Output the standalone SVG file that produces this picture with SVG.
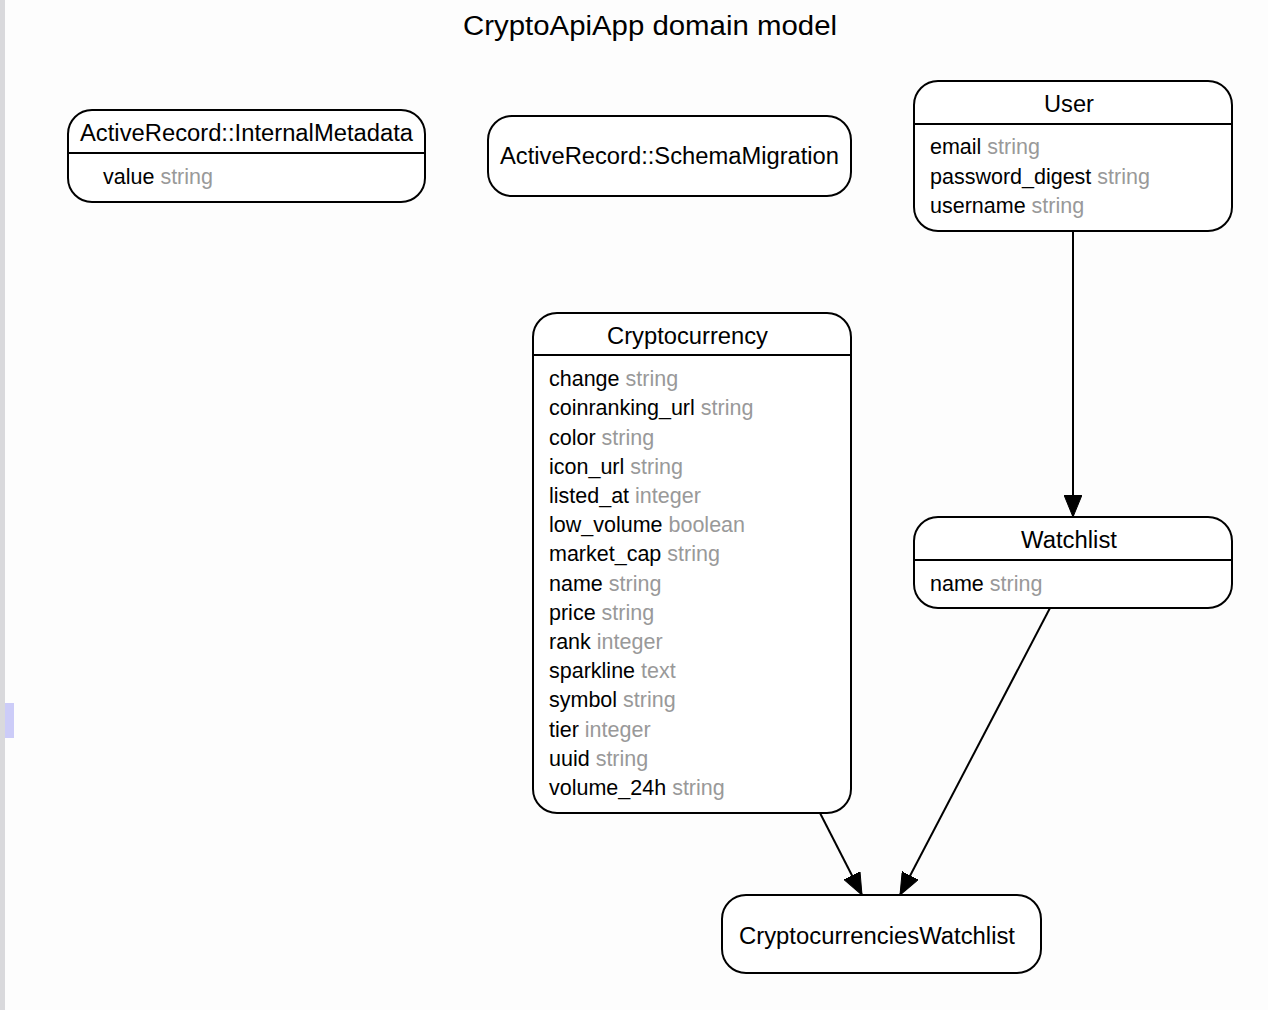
<svg xmlns="http://www.w3.org/2000/svg" width="1268" height="1010" viewBox="0 0 1268 1010">
<defs>
<style>
text{font-family:"Liberation Sans",Arial,Helvetica,sans-serif;font-size:21.5px;fill:#000}
.t{font-size:27px}
.h{font-size:23px}
.c{text-anchor:middle}
.ty{fill:#999}
.box{fill:#fff;stroke:#000;stroke-width:2}
.sep{stroke:#000;stroke-width:2}
.edge{fill:none;stroke:#000;stroke-width:2}
</style>
<marker id="arrow" viewBox="0 0 22 18" refX="22" refY="9" markerWidth="22" markerHeight="18" markerUnits="userSpaceOnUse" orient="auto">
<path d="M0,0 L22,9 L0,18 Z" fill="#000" stroke="#000" stroke-width="1"/>
</marker>
</defs>
<rect x="0" y="0" width="1268" height="1010" fill="#fdfdfd"/>
<rect x="0" y="0" width="5" height="1010" fill="#d9d9dc"/>
<rect x="5" y="703" width="9" height="35" fill="#ccccf8"/>
<text class="t c" x="650" y="35" textLength="374" lengthAdjust="spacingAndGlyphs">CryptoApiApp domain model</text>

<g id="connectors">
<line class="edge" x1="1073" y1="231" x2="1073" y2="517" marker-end="url(#arrow)"/>
<line class="edge" x1="820" y1="813" x2="862" y2="895" marker-end="url(#arrow)"/>
<line class="edge" x1="1050" y1="608" x2="900" y2="895" marker-end="url(#arrow)"/>
</g>

<g id="node-internal-metadata">
<rect class="box" x="68" y="110" width="357" height="92" rx="24"/>
<line class="sep" x1="68" y1="153" x2="425" y2="153"/>
<text class="h c" x="246.5" y="141" textLength="333" lengthAdjust="spacingAndGlyphs">ActiveRecord::InternalMetadata</text>
<text x="103" y="184">value <tspan class="ty">string</tspan></text>
</g>

<g id="node-schema-migration">
<rect class="box" x="488" y="116" width="363" height="80" rx="24"/>
<text class="h c" x="669.5" y="164" textLength="339" lengthAdjust="spacingAndGlyphs">ActiveRecord::SchemaMigration</text>
</g>

<g id="node-user">
<rect class="box" x="914" y="81" width="318" height="150" rx="24"/>
<line class="sep" x1="914" y1="124" x2="1232" y2="124"/>
<text class="h c" x="1069" y="112" textLength="50" lengthAdjust="spacingAndGlyphs">User</text>
<text x="930" y="154">email <tspan class="ty">string</tspan></text>
<text x="930" y="184">password_digest <tspan class="ty">string</tspan></text>
<text x="930" y="213">username <tspan class="ty">string</tspan></text>
</g>

<g id="node-cryptocurrency">
<rect class="box" x="533" y="313" width="318" height="500" rx="24"/>
<line class="sep" x1="533" y1="355" x2="851" y2="355"/>
<text class="h c" x="687.5" y="344" textLength="161" lengthAdjust="spacingAndGlyphs">Cryptocurrency</text>
<text x="549" y="386">change <tspan class="ty">string</tspan></text>
<text x="549" y="415">coinranking_url <tspan class="ty">string</tspan></text>
<text x="549" y="445">color <tspan class="ty">string</tspan></text>
<text x="549" y="474">icon_url <tspan class="ty">string</tspan></text>
<text x="549" y="503">listed_at <tspan class="ty">integer</tspan></text>
<text x="549" y="532">low_volume <tspan class="ty">boolean</tspan></text>
<text x="549" y="561">market_cap <tspan class="ty">string</tspan></text>
<text x="549" y="591">name <tspan class="ty">string</tspan></text>
<text x="549" y="620">price <tspan class="ty">string</tspan></text>
<text x="549" y="649">rank <tspan class="ty">integer</tspan></text>
<text x="549" y="678">sparkline <tspan class="ty">text</tspan></text>
<text x="549" y="707">symbol <tspan class="ty">string</tspan></text>
<text x="549" y="737">tier <tspan class="ty">integer</tspan></text>
<text x="549" y="766">uuid <tspan class="ty">string</tspan></text>
<text x="549" y="795">volume_24h <tspan class="ty">string</tspan></text>
</g>

<g id="node-watchlist">
<rect class="box" x="914" y="517" width="318" height="91" rx="24"/>
<line class="sep" x1="914" y1="560" x2="1232" y2="560"/>
<text class="h c" x="1069" y="548" textLength="96" lengthAdjust="spacingAndGlyphs">Watchlist</text>
<text x="930" y="591">name <tspan class="ty">string</tspan></text>
</g>

<g id="node-cryptocurrencies-watchlist">
<rect class="box" x="722" y="895" width="319" height="78" rx="24"/>
<text class="h c" x="877" y="944" textLength="276" lengthAdjust="spacingAndGlyphs">CryptocurrenciesWatchlist</text>
</g>
</svg>
